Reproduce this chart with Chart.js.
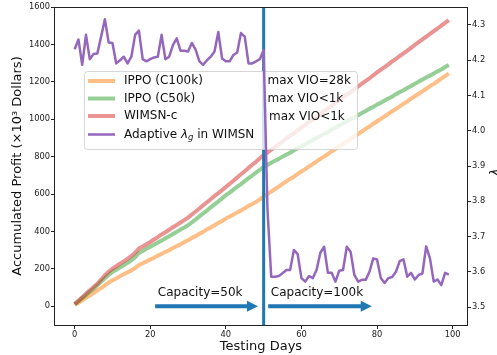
<!DOCTYPE html>
<html>
<head>
<meta charset="utf-8">
<script src="https://cdn.jsdelivr.net/npm/chart.js@4.4.1/dist/chart.umd.min.js"></script>
<style>
  html, body { margin: 0; padding: 0; background: #fff; }
  #wrap { width: 497px; height: 355px; }
</style>
</head>
<body>
<div id="wrap"><canvas id="chart" width="497" height="355"></canvas></div>
<script>
// testing days 0..99
const days = [
  0,1,2,3,4,5,6,7,8,9,10,11,12,13,14,15,16,17,18,19,
  20,21,22,23,24,25,26,27,28,29,30,31,32,33,34,35,36,37,38,39,
  40,41,42,43,44,45,46,47,48,49,50,51,52,53,54,55,56,57,58,59,
  60,61,62,63,64,65,66,67,68,69,70,71,72,73,74,75,76,77,78,79,
  80,81,82,83,84,85,86,87,88,89,90,91,92,93,94,95,96,97,98,99
];

// accumulated profit (x10^3 dollars)
const ippoC100k = [
  8,19,32,46,58,71,85,97,112,127,
  139,149,160,172,182,192,205,220,230,240,
  250,259,270,281,290,300,312,322,331,343,
  353,365,375,388,398,411,421,433,446,456,
  469,480,490,502,512,524,537,547,558,572,
  587,600,613,627,640,654,668,681,693,708,
  721,733,748,760,775,788,800,815,828,841,
  855,868,881,895,909,921,935,949,961,976,
  989,1002,1015,1029,1043,1055,1069,1083,1095,1110,
  1123,1136,1149,1163,1177,1189,1203,1217,1231,1245
];
const ippoC50k = [
  10,26,44,60,78,94,112,131,150,168,
  184,195,208,219,232,246,263,285,296,307,
  318,329,341,351,364,375,386,398,410,421,
  433,449,464,481,497,512,529,545,560,577,
  594,608,624,639,653,669,685,699,715,730,
  745,755,767,778,788,800,811,821,834,845,
  856,866,878,889,899,911,922,932,945,956,
  967,977,989,1000,1010,1022,1033,1044,1056,1066,
  1078,1088,1100,1111,1121,1134,1145,1155,1167,1178,
  1190,1200,1212,1223,1233,1245,1256,1266,1279,1290
];
const wimsnC = [
  12,30,48,68,85,103,121,142,166,185,
  201,214,228,240,254,269,286,309,320,332,
  344,357,370,384,396,409,423,435,448,461,
  474,491,507,523,540,556,572,590,605,621,
  638,655,671,689,706,722,740,757,773,791,
  808,822,837,852,866,881,897,911,925,940,
  955,970,984,998,1014,1028,1043,1058,1071,1087,
  1102,1117,1131,1145,1161,1176,1190,1205,1219,1235,
  1250,1265,1279,1293,1309,1323,1338,1352,1367,1382,
  1397,1412,1427,1441,1456,1471,1485,1500,1515,1530
];
// adaptive lambda_g (right axis)
const lambdaG = [
  4.231,4.259,4.187,4.272,4.203,4.218,4.219,4.267,4.316,4.250,
  4.249,4.191,4.200,4.210,4.191,4.210,4.272,4.284,4.203,4.197,
  4.203,4.208,4.210,4.272,4.203,4.210,4.243,4.262,4.227,4.227,
  4.225,4.249,4.230,4.197,4.187,4.200,4.210,4.225,4.280,4.205,
  4.197,4.197,4.215,4.222,4.277,4.267,4.191,4.191,4.197,4.203,
  4.229,3.780,3.586,3.586,3.588,3.596,3.605,3.605,3.662,3.650,
  3.582,3.572,3.588,3.582,3.605,3.654,3.671,3.597,3.597,3.572,
  3.603,3.605,3.671,3.657,3.591,3.572,3.577,3.577,3.600,3.638,
  3.635,3.582,3.568,3.582,3.585,3.600,3.630,3.635,3.586,3.597,
  3.578,3.591,3.595,3.672,3.638,3.572,3.578,3.562,3.597,3.592
];

const seriesNames = ["IPPO (C100k)", "IPPO (C50k)", "WIMSN-c", "Adaptive λg in WIMSN"];
const vioNotes = ["max VIO=28k", "max VIO<1k", "max VIO<1k"];
const xTicks = [0, 20, 40, 60, 80, 100];
const profitTicks = [0, 200, 400, 600, 800, 1000, 1200, 1400, 1600];
const lambdaTicks = [3.5, 3.6, 3.7, 3.8, 3.9, 4.0, 4.1, 4.2, 4.3];
const switchDay = 50;
const capacityArrows = [[21.3, 48.5], [51.2, 78.6]];
const capacityLabels = [["Capacity=50k", 22.0], ["Capacity=100k", 51.9]];

const FONT = "DejaVu Sans";
Chart.defaults.font.family = FONT;

const colors = {
  orange: "rgba(255,127,14,0.5)",
  green: "rgba(44,160,44,0.5)",
  red: "rgba(214,39,40,0.5)",
  purple: "#9467bd",
  blue: "#1f77b4",
};

const toPoints = (arr) => arr.map((v, i) => ({ x: days[i], y: v }));

// vertical line, arrows, captions and legend drawn between the profit lines and the lambda line
const overlay = {
  id: "overlay",
  afterDatasetDraw(chart, args) {
    if (args.index !== 2) return;
    const { ctx, chartArea, scales } = chart;
    const x = scales.x, y = scales.y;
    ctx.save();

    // capacity switch line
    const xs = x.getPixelForValue(switchDay);
    ctx.strokeStyle = colors.blue;
    ctx.lineWidth = 3;
    ctx.beginPath();
    ctx.moveTo(xs, chartArea.top);
    ctx.lineTo(xs, chartArea.bottom);
    ctx.stroke();

    // arrows
    ctx.fillStyle = colors.blue;
    const ya = y.getPixelForValue(0);
    capacityArrows.forEach(([a, b]) => {
      const x0 = x.getPixelForValue(a), x1 = x.getPixelForValue(b);
      const hl = 11;
      ctx.beginPath();
      ctx.moveTo(x0, ya - 2);
      ctx.lineTo(x1 - hl, ya - 2);
      ctx.lineTo(x1 - hl, ya - 5.5);
      ctx.lineTo(x1, ya);
      ctx.lineTo(x1 - hl, ya + 5.5);
      ctx.lineTo(x1 - hl, ya + 2);
      ctx.lineTo(x0, ya + 2);
      ctx.closePath();
      ctx.fill();
    });

    ctx.fillStyle = "#111";
    ctx.font = "12px " + FONT;
    ctx.textBaseline = "middle";
    ctx.textAlign = "left";
    capacityLabels.forEach(([t, d]) => {
      ctx.fillText(t, x.getPixelForValue(d), y.getPixelForValue(70));
    });

    // legend box
    const bx = 84, by = 71, bw = 273, bh = 78;
    ctx.beginPath();
    ctx.roundRect(bx + 0.5, by + 0.5, bw, bh, 3);
    ctx.fillStyle = "rgba(255,255,255,0.8)";
    ctx.fill();
    ctx.strokeStyle = "rgba(204,204,204,0.8)";
    ctx.lineWidth = 1;
    ctx.stroke();

    const rows = [81, 98.5, 116, 134.5];
    const handles = [
      [colors.orange, 4], [colors.green, 4], [colors.red, 4], [colors.purple, 2.5]
    ];
    rows.forEach((ry, i) => {
      ctx.strokeStyle = handles[i][0];
      ctx.lineWidth = handles[i][1];
      ctx.beginPath();
      ctx.moveTo(88, ry);
      ctx.lineTo(115, ry);
      ctx.stroke();
    });
    ctx.fillStyle = "#111";
    ctx.font = "12px " + FONT;
    for (let i = 0; i < 3; i++) ctx.fillText(seriesNames[i], 124, rows[i]);
    // "Adaptive λ_g in WIMSN"
    let tx = 124;
    const r4 = rows[3];
    ctx.fillText("Adaptive ", tx, r4);
    tx += ctx.measureText("Adaptive ").width;
    ctx.font = "italic 12px " + FONT;
    ctx.fillText("λ", tx, r4);
    tx += ctx.measureText("λ").width;
    ctx.font = "italic 8.5px " + FONT;
    ctx.fillText("g", tx, r4 + 3);
    tx += ctx.measureText("g").width;
    ctx.font = "12px " + FONT;
    ctx.fillText(" in WIMSN", tx, r4);

    // violation notes
    const noteX = [267.5, 267.5, 269];
    const noteY = [81, 98.7, 116.7];
    vioNotes.forEach((t, i) => ctx.fillText(t, noteX[i], noteY[i]));

    ctx.restore();
  },
  afterDraw(chart) {
    const { ctx, chartArea } = chart;
    ctx.save();
    ctx.strokeStyle = "#222";
    ctx.lineWidth = 1;
    ctx.strokeRect(chartArea.left - 0.5, chartArea.top + 0.5,
      chartArea.right - chartArea.left + 1, chartArea.bottom - chartArea.top);
    // right axis title λ_g
    ctx.translate(499, (chartArea.top + chartArea.bottom) / 2 + 4);
    ctx.rotate(-Math.PI / 2);
    ctx.fillStyle = "#111";
    ctx.textBaseline = "alphabetic";
    ctx.textAlign = "left";
    ctx.font = "italic 13px " + FONT;
    ctx.fillText("λ", -6, 0);
    const w = ctx.measureText("λ").width;
    ctx.font = "italic 9px " + FONT;
    ctx.fillText("g", -6 + w, 3);
    ctx.restore();
  }
};

const tickFont = { size: 8.3, family: FONT };
const tickGrid = { display: true, drawOnChartArea: false, drawTicks: true, tickLength: 4, color: "#222" };

new Chart(document.getElementById("chart"), {
  type: "line",
  data: {
    datasets: [
      { label: seriesNames[0], data: toPoints(ippoC100k), borderColor: colors.orange, borderWidth: 4, yAxisID: "y", order: 3 },
      { label: seriesNames[1], data: toPoints(ippoC50k), borderColor: colors.green, borderWidth: 4, yAxisID: "y", order: 2 },
      { label: seriesNames[2], data: toPoints(wimsnC), borderColor: colors.red, borderWidth: 4, yAxisID: "y", order: 1 },
      { label: seriesNames[3], data: toPoints(lambdaG), borderColor: colors.purple, borderWidth: 2.5, yAxisID: "y2", order: 0 },
    ],
  },
  options: {
    responsive: false,
    animation: false,
    devicePixelRatio: 1,
    layout: { padding: { top: 7, left: 0, right: 0, bottom: 0 } },
    elements: {
      point: { radius: 0 },
      line: { tension: 0, borderJoinStyle: "round", fill: false },
    },
    plugins: {
      legend: { display: false },
      tooltip: { enabled: false },
    },
    scales: {
      x: {
        type: "linear",
        min: -5.2,
        max: 103.8,
        afterBuildTicks: (s) => { s.ticks = xTicks.map((v) => ({ value: v })); },
        afterFit: (s) => { s.height = 30; },
        ticks: { font: tickFont, color: "#222", padding: 1, maxRotation: 0, callback: (v) => String(v) },
        grid: tickGrid,
        border: { display: false },
        title: { display: true, text: "Testing Days", font: { size: 13, family: FONT }, color: "#111", padding: { top: 0, bottom: 1 } },
      },
      y: {
        position: "left",
        min: -100,
        max: 1600,
        afterBuildTicks: (s) => { s.ticks = profitTicks.map((v) => ({ value: v })); },
        afterFit: (s) => { s.width = 55; },
        ticks: { font: tickFont, color: "#222", padding: 1, callback: (v) => String(v) },
        grid: tickGrid,
        border: { display: false },
        title: { display: true, text: "Accumulated Profit (×10³ Dollars)", font: { size: 13, family: FONT }, color: "#111", padding: { top: 10, bottom: 0 } },
      },
      y2: {
        position: "right",
        min: 3.449,
        max: 4.351,
        afterBuildTicks: (s) => { s.ticks = lambdaTicks.map((v) => ({ value: v })); },
        afterFit: (s) => { s.width = 30; },
        ticks: { font: tickFont, color: "#222", padding: 1, callback: (v) => v.toFixed(1) },
        grid: tickGrid,
        border: { display: false },
      },
    },
  },
  plugins: [overlay],
});
</script>
</body>
</html>
